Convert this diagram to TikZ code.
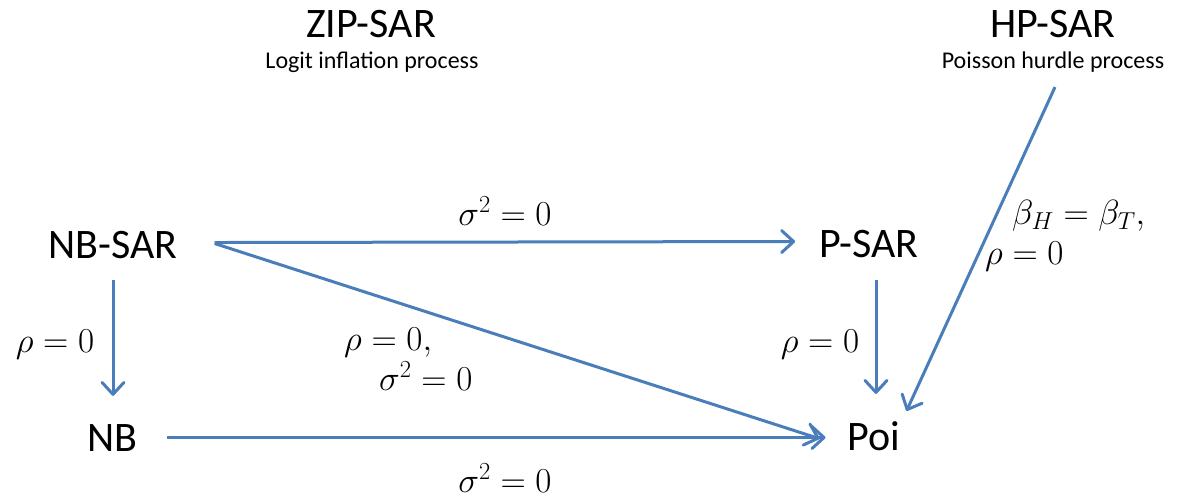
\RequirePackage{fix-cm}
\documentclass[tikz,border=0pt]{standalone}
\usepackage{fontspec}
\setmainfont{Carlito}
\usetikzlibrary{arrows.meta}
\definecolor{arrblue}{HTML}{4A7EBB}
\tikzset{
  big/.style={font=\fontsize{42}{48}\selectfont, inner sep=0pt, anchor=base},
  sub/.style={font=\fontsize{24}{28}\selectfont, inner sep=0pt, anchor=base},
  lab/.style={font=\fontsize{35}{36}\selectfont, inner sep=0pt, anchor=base},
  arr/.style={draw=arrblue, line width=3pt, -{Straight Barb[length=12pt,width=22pt,line join=round,line cap=round]}}
}
\begin{document}
\begin{tikzpicture}[x=1pt,y=-1pt]
\useasboundingbox (0,0) rectangle (1179,499);
% titles
\node[big] (zip) at (371,37) {ZIP-SAR};
\node[sub] (zipsub) at (372,68) {Logit inflation process};
\node[big] (hp) at (1053,37) {HP-SAR};
\node[sub] (hpsub) at (1053,68) {Poisson hurdle process};
% main nodes
\node[big] (nbsar) at (113,258) {NB-SAR};
\node[big] (psar) at (869,257) {P-SAR};
\node[big] (nb) at (112,451) {NB};
\node[big] (poi) at (874,450) {Poi};
% labels
\node[lab] (l1) at (505,225) {$\sigma^2=0$};
\node[lab] (l2) at (55,352) {$\rho=0$};
\node[lab, anchor=base west, align=left] (l3) at (344,390) {$\rho=0,$\\[4pt]\hspace*{35pt}$\sigma^2=0$};
\node[lab] (l4) at (820,352) {$\rho=0$};
\node[lab, anchor=base west] (l5a) at (1012,224) {$\beta_H=\beta_T,$};
\node[lab, anchor=base west] (l5b) at (985,264) {$\rho=0$};
\node[lab] (l6) at (505,492) {$\sigma^2=0$};
% connectors
\draw[arr] ([xshift=37pt,yshift=2pt]nbsar.east) -- ([xshift=-24pt,yshift=2pt]psar.west);
\draw[arr] ([xshift=37pt,yshift=1pt]nbsar.east) -- ([xshift=-28pt,yshift=-3pt]poi.west);
\draw[arr, shorten <=22pt, shorten >=28pt] (nbsar.south) -- (nbsar.south |- nb.north);
\draw[arr, shorten <=23pt, shorten >=27pt] ([xshift=7pt]psar.south) -- ([xshift=7pt]psar.south |- poi.north);
\draw[arr, shorten <=30pt, shorten >=22pt] (nb.east) -- (nb.east -| poi.west);
\draw[arr] ([xshift=2pt,yshift=-15pt]hpsub.south) -- ([xshift=6pt,yshift=10pt]poi.north east);
\end{tikzpicture}
\end{document}
